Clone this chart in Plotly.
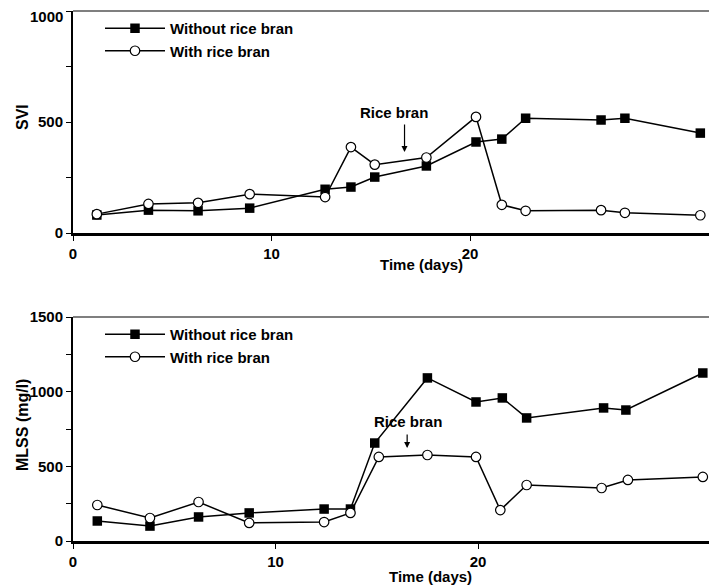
import plotly.graph_objects as go

# ---- data ----
days_svi = [1.2, 3.8, 6.3, 8.9, 12.7, 14.0, 15.2, 17.8, 20.3, 21.6, 22.8, 26.6, 27.8, 31.6]
svi_without = [81, 103, 100, 112, 197, 207, 252, 302, 410, 423, 517, 509, 517, 450]
svi_with = [85, 131, 136, 175, 162, 387, 308, 340, 523, 127, 100, 103, 91, 80]

days_mlss_without = [1.2, 3.8, 6.2, 8.7, 12.4, 13.7, 14.9, 17.5, 19.9, 21.2, 22.4, 26.2, 27.3, 31.1]
mlss_without = [134, 100, 161, 188, 214, 214, 656, 1092, 931, 958, 824, 891, 877, 1125]
days_mlss_with = [1.2, 3.8, 6.2, 8.7, 12.4, 13.7, 15.1, 17.5, 19.9, 21.1, 22.4, 26.1, 27.4, 31.1]
mlss_with = [241, 154, 261, 121, 127, 188, 563, 576, 563, 207, 375, 355, 409, 429]

series_names = ["Without rice bran", "With rice bran"]
svi_ticks = [0, 250, 500, 750, 1000]
svi_ticktext = ["0", "", "500", "", ""]   # top label "1000" drawn below so it stays inside the page
svi_top_label = "1000"
mlss_ticks = [0, 250, 500, 750, 1000, 1250, 1500]
mlss_ticktext = ["0", "", "500", "", "1000", "", "1500"]
x_ticks = [0, 10, 20]

FONT = "Liberation Sans"
OFF = 8              # page body margin
W, H = 717 - OFF, 587 - OFF
L = 73 - OFF
PW = W - L


def fy(ref_px):
    """reference page y pixel -> paper fraction"""
    return 1 - (ref_px - OFF) / H


def fx(ref_px):
    """reference page x pixel -> paper fraction (plot area)"""
    return (ref_px - OFF - L) / PW


fig = go.Figure()


def add_pair(xw, yw, xc, yc, xa, ya, leg):
    fig.add_trace(go.Scatter(
        x=xw, y=yw, mode="lines+markers", name=series_names[0],
        xaxis=xa, yaxis=ya, legend=leg,
        line=dict(color="black", width=1.5),
        marker=dict(symbol="square", size=9.5, color="black"),
    ))
    fig.add_trace(go.Scatter(
        x=xc, y=yc, mode="lines+markers", name=series_names[1],
        xaxis=xa, yaxis=ya, legend=leg,
        line=dict(color="black", width=1.5),
        marker=dict(symbol="circle", size=9.5, color="white",
                    line=dict(color="black", width=1.2)),
    ))


add_pair(days_svi, svi_without, days_svi, svi_with, "x", "y", "legend")
add_pair(days_mlss_without, mlss_without, days_mlss_with, mlss_with, "x2", "y2", "legend2")

tickfont = dict(family=FONT, size=15, color="black", weight="bold")
bold = dict(family=FONT, size=16, color="black", weight="bold")
legfont = dict(family=FONT, size=15, color="black", weight="bold")
titlefont = dict(family=FONT, size=15, color="black", weight="bold")

xcommon = dict(showgrid=False, zeroline=False, showline=True, linecolor="black",
               linewidth=2.5, ticks="outside", ticklen=5, tickwidth=1,
               tickcolor="black", tickvals=x_ticks, tickfont=tickfont,
               automargin=False, ticklabeloverflow="allow")
ycommon = dict(showgrid=False, zeroline=False, showline=True, linecolor="black",
               linewidth=2, ticks="outside", ticklen=5, tickwidth=1,
               tickcolor="black", tickfont=tickfont,
               automargin=False, ticklabeloverflow="allow")

fig.update_layout(
    width=W, height=H,
    margin=dict(l=L, r=0, t=0, b=0, autoexpand=False),
    paper_bgcolor="white", plot_bgcolor="white",
    font=dict(family=FONT, size=16, color="black"),
    xaxis=dict(domain=[0, 1], range=[0, 32.44], anchor="y", **xcommon),
    yaxis=dict(domain=[fy(233), fy(11)], range=[0, 1000], anchor="x",
               tickvals=svi_ticks, ticktext=svi_ticktext, **ycommon),
    xaxis2=dict(domain=[0, 1], range=[0, 31.8], anchor="y2", **xcommon),
    yaxis2=dict(domain=[fy(541), fy(317)], range=[0, 1500], anchor="x2",
                tickvals=mlss_ticks, ticktext=mlss_ticktext, **ycommon),
    legend=dict(x=fx(100), y=fy(12), xanchor="left", yanchor="top",
                bgcolor="rgba(0,0,0,0)", itemwidth=60, tracegroupgap=0, font=legfont),
    legend2=dict(x=fx(100), y=fy(318), xanchor="left", yanchor="top",
                 bgcolor="rgba(0,0,0,0)", itemwidth=60, tracegroupgap=0, font=legfont),
    showlegend=True,
)

# gray top border lines (frame top of each panel)
fig.add_shape(type="line", xref="paper", yref="paper", x0=0, x1=1, y0=fy(11), y1=fy(11),
              line=dict(color="#555555", width=1.3))
fig.add_shape(type="line", xref="paper", yref="paper", x0=0, x1=1, y0=fy(317), y1=fy(317),
              line=dict(color="#555555", width=1.3))

ann = []
ann.append(dict(text=svi_top_label, xref="paper", yref="y", x=0, y=1000,
                xanchor="right", yanchor="top", xshift=-9, yshift=4, borderpad=0,
                showarrow=False, font=tickfont))
ann.append(dict(text="SVI", xref="paper", yref="paper", x=fx(23), y=fy(117),
                textangle=-90, showarrow=False, font=bold, xanchor="center", yanchor="middle"))
ann.append(dict(text="MLSS (mg/l)", xref="paper", yref="paper", x=fx(22), y=fy(425),
                textangle=-90, showarrow=False, font=bold, xanchor="center", yanchor="middle"))
ann.append(dict(text="Time (days)", xref="paper", yref="paper", x=fx(421), y=fy(265),
                showarrow=False, font=titlefont, xanchor="center", yanchor="middle"))
ann.append(dict(text="Time (days)", xref="paper", yref="paper", x=fx(430), y=fy(576),
                showarrow=False, font=titlefont, xanchor="center", yanchor="middle"))
ann.append(dict(text="Rice bran", xref="x", yref="y", x=16.17, y=545, showarrow=False,
                font=titlefont, xanchor="center", yanchor="middle"))
ann.append(dict(text="", xref="x", yref="y", x=16.7, y=365, showarrow=True, ax=0, ay=-29,
                arrowhead=2, arrowsize=1, arrowwidth=1.2, arrowcolor="black"))
ann.append(dict(text="Rice bran", xref="x2", yref="y2", x=16.54, y=797, showarrow=False,
                font=titlefont, xanchor="center", yanchor="middle"))
ann.append(dict(text="", xref="x2", yref="y2", x=16.5, y=623, showarrow=True, ax=0, ay=-15,
                arrowhead=2, arrowsize=1, arrowwidth=1.2, arrowcolor="black"))
fig.update_layout(annotations=ann)

fig.write_html("out.html")
